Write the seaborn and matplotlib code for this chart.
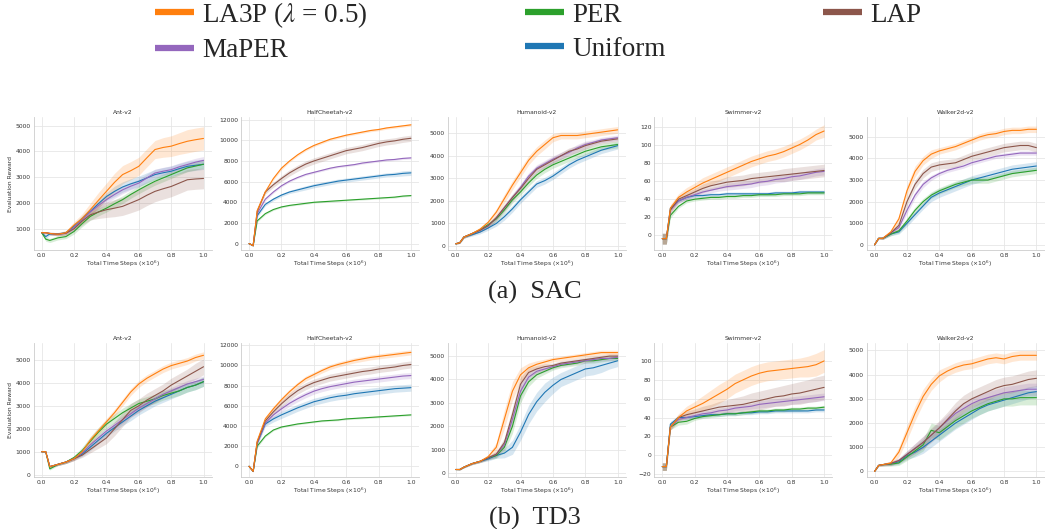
import matplotlib
matplotlib.use("Agg")
import matplotlib.pyplot as plt
from matplotlib.lines import Line2D
from matplotlib.font_manager import FontProperties
from matplotlib.ticker import MultipleLocator
import seaborn as sns

steps = [0, 0.025, 0.05, 0.1, 0.15, 0.2, 0.25, 0.3, 0.35, 0.4, 0.45, 0.5,
         0.55, 0.6, 0.65, 0.7, 0.75, 0.8, 0.85, 0.9, 0.95, 1.0]

methods = ["LA3P", "MaPER", "PER", "Uniform", "LAP"]  # legend order
draw_order = ["Uniform", "PER", "MaPER", "LAP", "LA3P"]
labels = {"LA3P": r"LA3P ($\lambda$ = 0.5)", "MaPER": "MaPER", "PER": "PER",
          "Uniform": "Uniform", "LAP": "LAP"}
colors = {"LA3P": "#ff7f0e", "MaPER": "#9467bd", "PER": "#2ca02c",
          "Uniform": "#1f77b4", "LAP": "#8c564b"}
envs = ["Ant-v2", "HalfCheetah-v2", "Humanoid-v2", "Swimmer-v2", "Walker2d-v2"]

# ---------------- SAC ----------------
sac_ant = {
    "LA3P":    [850, 850, 820, 790, 850, 1150, 1400, 1740, 2100, 2450, 2800, 3100, 3250, 3420, 3750, 4070, 4150, 4200, 4300, 4390, 4450, 4500],
    "MaPER":   [850, 850, 820, 790, 830, 1050, 1350, 1650, 1900, 2130, 2330, 2510, 2650, 2770, 2970, 3160, 3230, 3290, 3400, 3490, 3580, 3650],
    "PER":     [850, 600, 550, 650, 700, 900, 1200, 1480, 1650, 1800, 1970, 2130, 2330, 2510, 2680, 2840, 2970, 3100, 3230, 3360, 3430, 3500],
    "Uniform": [850, 700, 800, 800, 850, 1100, 1400, 1670, 1970, 2250, 2450, 2620, 2740, 2840, 2970, 3100, 3170, 3230, 3330, 3420, 3460, 3500],
    "LAP":     [850, 850, 820, 790, 830, 1000, 1300, 1540, 1650, 1740, 1800, 1870, 2000, 2130, 2300, 2450, 2550, 2640, 2770, 2900, 2930, 2950],
}
sac_ant_sd = {
    "LA3P":    [40, 40, 50, 60, 80, 120, 180, 250, 300, 320, 350, 350, 350, 350, 350, 350, 380, 400, 420, 450, 450, 450],
    "MaPER":   [40, 40, 50, 60, 70, 90, 110, 130, 150, 150, 150, 150, 150, 150, 150, 150, 150, 150, 150, 150, 150, 150],
    "PER":     [40, 80, 80, 80, 80, 100, 120, 150, 150, 150, 150, 150, 150, 150, 150, 150, 150, 150, 150, 150, 150, 150],
    "Uniform": [40, 80, 60, 60, 70, 90, 110, 130, 150, 150, 200, 200, 200, 200, 200, 200, 200, 200, 200, 200, 200, 200],
    "LAP":     [40, 40, 50, 60, 70, 100, 150, 200, 250, 300, 330, 350, 380, 400, 400, 400, 400, 400, 400, 400, 400, 400],
}
sac_hc = {
    "LA3P":    [0, -200, 3200, 5000, 6300, 7300, 8000, 8600, 9100, 9500, 9800, 10100, 10300, 10500, 10650, 10800, 10950, 11050, 11200, 11300, 11400, 11500],
    "MaPER":   [0, -200, 2900, 4300, 5000, 5600, 6050, 6400, 6700, 6900, 7100, 7300, 7450, 7550, 7650, 7800, 7900, 8000, 8100, 8150, 8250, 8300],
    "PER":     [0, -200, 2200, 2900, 3300, 3550, 3700, 3800, 3900, 4000, 4050, 4100, 4150, 4200, 4250, 4300, 4350, 4400, 4450, 4500, 4600, 4650],
    "Uniform": [0, -200, 2700, 3800, 4300, 4700, 5000, 5200, 5400, 5600, 5750, 5900, 6050, 6150, 6250, 6350, 6450, 6550, 6650, 6700, 6800, 6850],
    "LAP":     [0, -200, 3100, 5000, 5700, 6300, 6850, 7300, 7700, 8000, 8250, 8500, 8750, 9000, 9150, 9300, 9500, 9700, 9850, 9950, 10100, 10200],
}
sac_hc_sd = {
    "LA3P":    [0, 50, 150, 150, 150, 150, 120, 120, 120, 120, 120, 120, 120, 120, 120, 120, 120, 120, 120, 120, 120, 120],
    "MaPER":   [0, 50, 150, 150, 120, 100, 100, 100, 100, 100, 100, 100, 100, 100, 100, 100, 100, 100, 100, 100, 100, 100],
    "PER":     [0, 50, 120, 100, 80, 80, 80, 80, 80, 80, 80, 80, 80, 80, 80, 80, 80, 80, 80, 80, 80, 80],
    "Uniform": [0, 50, 150, 150, 150, 150, 150, 180, 200, 200, 200, 200, 200, 200, 200, 200, 200, 200, 200, 220, 250, 250],
    "LAP":     [0, 50, 150, 200, 250, 280, 300, 300, 300, 300, 300, 300, 300, 300, 300, 300, 300, 300, 300, 300, 300, 300],
}
sac_hum = {
    "LA3P":    [100, 150, 400, 550, 750, 1050, 1500, 2100, 2700, 3250, 3800, 4200, 4500, 4800, 4900, 4900, 4900, 4950, 5000, 5050, 5100, 5150],
    "MaPER":   [100, 150, 400, 550, 700, 900, 1250, 1700, 2150, 2600, 3100, 3450, 3650, 3850, 4000, 4150, 4350, 4500, 4600, 4700, 4750, 4800],
    "PER":     [100, 150, 400, 550, 720, 950, 1200, 1600, 2050, 2400, 2800, 3150, 3400, 3600, 3750, 3900, 4050, 4200, 4300, 4400, 4450, 4500],
    "Uniform": [100, 150, 400, 500, 620, 800, 1000, 1300, 1650, 2050, 2400, 2750, 2900, 3100, 3350, 3600, 3800, 3950, 4100, 4250, 4350, 4450],
    "LAP":     [100, 150, 400, 550, 700, 900, 1250, 1700, 2150, 2550, 3000, 3400, 3600, 3800, 4000, 4200, 4300, 4450, 4550, 4650, 4700, 4750],
}
sac_hum_sd = {
    "LA3P":    [20, 30, 50, 60, 80, 100, 150, 200, 200, 200, 200, 200, 200, 180, 150, 150, 150, 150, 150, 150, 150, 150],
    "MaPER":   [20, 30, 50, 60, 80, 100, 120, 150, 150, 150, 150, 150, 150, 150, 150, 150, 150, 150, 120, 120, 120, 120],
    "PER":     [20, 30, 50, 60, 80, 100, 120, 150, 150, 150, 150, 150, 150, 150, 150, 150, 150, 150, 150, 150, 150, 150],
    "Uniform": [20, 30, 50, 60, 80, 100, 120, 150, 150, 150, 150, 150, 150, 150, 150, 150, 150, 150, 150, 150, 150, 150],
    "LAP":     [20, 30, 50, 60, 80, 100, 120, 150, 150, 150, 150, 150, 150, 150, 150, 150, 150, 150, 120, 120, 120, 120],
}
sac_swim = {
    "LA3P":    [-4, -4, 30, 42, 48, 53, 58, 62, 66, 70, 74, 78, 82, 85, 88, 90, 93, 97, 101, 106, 112, 116],
    "MaPER":   [-4, -4, 28, 38, 42, 45, 48, 50, 52, 54, 55, 56, 57, 59, 60, 62, 63, 65, 66, 68, 70, 71],
    "PER":     [-4, -4, 22, 32, 38, 40, 41, 42, 42, 43, 43, 44, 44, 45, 45, 45, 46, 46, 46, 47, 47, 47],
    "Uniform": [-4, -4, 30, 38, 42, 44, 44, 45, 45, 46, 46, 46, 46, 46, 46, 47, 47, 47, 48, 48, 48, 48],
    "LAP":     [-4, -4, 28, 40, 44, 48, 52, 55, 57, 59, 60, 61, 63, 64, 65, 66, 67, 68, 69, 70, 71, 72],
}
sac_swim_sd = {
    "LA3P":    [6, 6, 4, 4, 5, 5, 6, 6, 6, 6, 6, 6, 6, 6, 6, 6, 6, 6, 6, 6, 6, 7],
    "MaPER":   [6, 6, 3, 3, 3, 3, 3, 3, 3, 4, 4, 4, 4, 4, 4, 4, 4, 4, 4, 4, 4, 4],
    "PER":     [6, 6, 3, 2, 2, 2, 2, 2, 2, 2, 2, 2, 2, 2, 2, 2, 2, 2, 2, 2, 2, 2],
    "Uniform": [6, 6, 3, 2, 2, 2, 2, 2, 2, 2, 2, 2, 2, 2, 2, 2, 2, 2, 2, 2, 2, 2],
    "LAP":     [6, 6, 4, 4, 4, 4, 5, 5, 5, 6, 6, 6, 6, 6, 6, 6, 7, 7, 7, 7, 7, 7],
}
sac_walk = {
    "LA3P":    [0, 300, 300, 600, 1200, 2500, 3400, 3900, 4200, 4350, 4450, 4550, 4700, 4850, 5000, 5100, 5150, 5250, 5300, 5300, 5350, 5350],
    "MaPER":   [0, 300, 300, 550, 800, 1600, 2300, 2800, 3100, 3300, 3450, 3550, 3650, 3800, 3900, 4000, 4100, 4150, 4200, 4250, 4250, 4250],
    "PER":     [0, 300, 300, 500, 650, 1100, 1600, 2000, 2300, 2500, 2650, 2800, 2900, 3000, 3000, 3000, 3100, 3200, 3300, 3350, 3400, 3450],
    "Uniform": [0, 300, 300, 500, 600, 1000, 1400, 1800, 2200, 2400, 2550, 2700, 2850, 3000, 3100, 3200, 3300, 3400, 3500, 3550, 3600, 3650],
    "LAP":     [0, 300, 300, 550, 900, 2000, 2800, 3300, 3600, 3700, 3750, 3800, 3950, 4100, 4200, 4300, 4400, 4500, 4550, 4600, 4600, 4500],
}
sac_walk_sd = {
    "LA3P":    [0, 30, 50, 80, 150, 250, 250, 200, 200, 150, 150, 150, 150, 150, 150, 150, 150, 150, 150, 150, 150, 150],
    "MaPER":   [0, 30, 50, 80, 100, 150, 150, 150, 120, 100, 100, 100, 100, 100, 100, 100, 100, 100, 100, 100, 100, 100],
    "PER":     [0, 30, 50, 80, 100, 150, 150, 150, 150, 150, 150, 150, 150, 150, 150, 150, 150, 150, 150, 150, 150, 150],
    "Uniform": [0, 30, 50, 80, 100, 150, 150, 150, 200, 200, 200, 200, 200, 200, 200, 200, 200, 200, 200, 200, 200, 200],
    "LAP":     [0, 30, 50, 80, 150, 200, 200, 200, 200, 200, 200, 200, 200, 200, 200, 200, 200, 200, 200, 200, 200, 200],
}

# ---------------- TD3 ----------------
td3_ant = {
    "LA3P":    [1000, 1000, 350, 450, 550, 700, 1000, 1500, 1900, 2300, 2700, 3150, 3600, 3950, 4200, 4400, 4600, 4750, 4850, 4950, 5100, 5200],
    "MaPER":   [1000, 1000, 350, 450, 550, 700, 950, 1300, 1600, 1900, 2150, 2400, 2650, 2900, 3100, 3300, 3500, 3650, 3800, 3950, 4050, 4150],
    "PER":     [1000, 1000, 250, 450, 550, 750, 1050, 1450, 1850, 2200, 2450, 2700, 2900, 3100, 3200, 3300, 3450, 3550, 3650, 3800, 3900, 4050],
    "Uniform": [1000, 1000, 350, 450, 550, 700, 900, 1200, 1500, 1800, 2050, 2300, 2550, 2800, 3000, 3200, 3350, 3500, 3650, 3800, 3900, 4050],
    "LAP":     [1000, 1000, 350, 450, 550, 700, 850, 1100, 1350, 1600, 2000, 2400, 2800, 3000, 3250, 3450, 3650, 3900, 4100, 4300, 4500, 4700],
}
td3_ant_sd = {
    "LA3P":    [0, 0, 50, 50, 60, 80, 100, 150, 150, 150, 150, 150, 150, 150, 150, 150, 150, 150, 150, 150, 150, 150],
    "MaPER":   [0, 0, 50, 50, 60, 80, 100, 150, 150, 150, 150, 150, 150, 150, 150, 150, 150, 150, 150, 150, 150, 150],
    "PER":     [0, 0, 50, 50, 60, 80, 150, 200, 200, 200, 200, 200, 200, 200, 200, 200, 200, 200, 200, 200, 200, 200],
    "Uniform": [0, 0, 50, 50, 60, 80, 100, 150, 150, 150, 150, 150, 200, 200, 200, 200, 200, 200, 200, 200, 200, 200],
    "LAP":     [0, 0, 50, 50, 60, 80, 100, 150, 200, 250, 300, 300, 300, 300, 300, 300, 300, 300, 300, 300, 350, 350],
}
td3_hc = {
    "LA3P":    [0, -500, 2500, 4700, 5700, 6600, 7400, 8100, 8700, 9100, 9500, 9850, 10100, 10300, 10500, 10650, 10800, 10900, 11000, 11100, 11200, 11300],
    "MaPER":   [0, -500, 2300, 4300, 5100, 5700, 6250, 6700, 7100, 7450, 7700, 7900, 8050, 8200, 8350, 8450, 8550, 8650, 8750, 8850, 8950, 9000],
    "PER":     [0, -500, 2000, 3000, 3600, 3900, 4050, 4200, 4300, 4400, 4500, 4550, 4600, 4700, 4750, 4800, 4850, 4900, 4950, 5000, 5050, 5100],
    "Uniform": [0, -500, 2300, 4200, 4700, 5100, 5450, 5800, 6100, 6400, 6600, 6800, 6950, 7050, 7200, 7300, 7400, 7500, 7600, 7700, 7750, 7800],
    "LAP":     [0, -500, 2400, 4500, 5400, 6200, 6900, 7500, 7950, 8300, 8550, 8800, 8950, 9100, 9250, 9400, 9500, 9650, 9750, 9850, 10000, 10100],
}
td3_hc_sd = {
    "LA3P":    [0, 50, 200, 250, 250, 250, 250, 250, 250, 250, 250, 250, 250, 250, 250, 250, 250, 250, 250, 250, 250, 250],
    "MaPER":   [0, 50, 200, 250, 300, 300, 300, 300, 300, 300, 300, 300, 300, 300, 300, 300, 300, 300, 300, 300, 300, 300],
    "PER":     [0, 50, 150, 100, 80, 80, 80, 80, 80, 80, 80, 80, 80, 80, 80, 80, 80, 80, 80, 80, 80, 80],
    "Uniform": [0, 50, 200, 250, 300, 350, 350, 350, 350, 350, 350, 350, 350, 350, 350, 350, 350, 350, 350, 350, 350, 350],
    "LAP":     [0, 50, 200, 250, 300, 350, 350, 350, 350, 350, 350, 350, 350, 350, 350, 350, 350, 350, 350, 350, 350, 350],
}
td3_hum = {
    "LA3P":    [150, 150, 250, 400, 500, 700, 1100, 2300, 3500, 4200, 4500, 4650, 4750, 4850, 4900, 4950, 5000, 5050, 5100, 5150, 5150, 5150],
    "MaPER":   [150, 150, 250, 400, 500, 650, 800, 1200, 2300, 3500, 4100, 4350, 4450, 4550, 4650, 4700, 4750, 4800, 4850, 4900, 4900, 4950],
    "PER":     [150, 150, 250, 400, 500, 650, 750, 1100, 2000, 3300, 3900, 4200, 4350, 4500, 4600, 4650, 4700, 4800, 4800, 4850, 4900, 4900],
    "Uniform": [150, 150, 250, 400, 500, 600, 750, 850, 1100, 1750, 2500, 3050, 3450, 3750, 4000, 4150, 4300, 4450, 4500, 4600, 4700, 4800],
    "LAP":     [150, 150, 250, 400, 500, 650, 800, 1300, 2500, 3800, 4300, 4450, 4550, 4600, 4700, 4750, 4800, 4850, 4900, 4950, 5000, 5000],
}
td3_hum_sd = {
    "LA3P":    [0, 20, 30, 40, 50, 80, 200, 400, 400, 300, 200, 150, 120, 100, 100, 100, 100, 100, 100, 100, 100, 100],
    "MaPER":   [0, 20, 30, 40, 50, 80, 120, 200, 300, 300, 200, 150, 120, 100, 100, 100, 100, 100, 100, 100, 100, 100],
    "PER":     [0, 20, 30, 40, 50, 80, 120, 200, 300, 300, 200, 150, 120, 100, 100, 100, 100, 100, 100, 100, 100, 100],
    "Uniform": [0, 20, 30, 40, 50, 80, 120, 200, 300, 350, 400, 400, 400, 350, 300, 300, 300, 300, 300, 300, 250, 250],
    "LAP":     [0, 20, 30, 40, 50, 80, 120, 200, 300, 300, 200, 150, 120, 100, 100, 100, 100, 100, 100, 100, 100, 100],
}
td3_swim = {
    "LA3P":    [-12, -12, 30, 40, 47, 51, 55, 60, 65, 70, 76, 80, 84, 87, 89, 90, 91, 92, 93, 94, 96, 100],
    "MaPER":   [-12, -12, 30, 38, 40, 42, 44, 45, 47, 48, 50, 51, 52, 54, 55, 56, 57, 58, 59, 60, 61, 62],
    "PER":     [-12, -12, 30, 35, 36, 39, 41, 42, 43, 44, 44, 45, 46, 47, 47, 48, 48, 49, 49, 50, 50, 51],
    "Uniform": [-12, -12, 33, 40, 40, 41, 42, 43, 43, 44, 44, 45, 45, 46, 46, 47, 47, 47, 47, 47, 48, 48],
    "LAP":     [-12, -12, 30, 40, 43, 45, 47, 49, 51, 52, 53, 54, 56, 58, 60, 62, 63, 65, 66, 68, 70, 72],
}
td3_swim_sd = {
    "LA3P":    [4, 4, 3, 4, 5, 6, 8, 9, 10, 10, 10, 10, 10, 10, 10, 10, 10, 10, 10, 11, 12, 12],
    "MaPER":   [4, 4, 3, 3, 3, 3, 3, 3, 3, 3, 3, 3, 3, 4, 4, 4, 4, 4, 4, 4, 4, 4],
    "PER":     [4, 4, 3, 3, 3, 2, 2, 2, 2, 2, 2, 2, 2, 2, 2, 2, 2, 2, 2, 2, 2, 2],
    "Uniform": [4, 4, 3, 2, 2, 2, 2, 2, 2, 2, 2, 2, 2, 2, 2, 2, 2, 2, 2, 2, 2, 2],
    "LAP":     [4, 4, 3, 3, 4, 4, 5, 5, 6, 7, 8, 9, 10, 10, 10, 10, 11, 11, 12, 12, 13, 13],
}
td3_walk = {
    "LA3P":    [0, 250, 280, 350, 800, 1600, 2400, 3100, 3600, 3950, 4150, 4300, 4400, 4450, 4550, 4650, 4700, 4650, 4750, 4800, 4800, 4800],
    "MaPER":   [0, 250, 280, 330, 450, 700, 950, 1200, 1500, 1800, 2100, 2400, 2600, 2800, 2950, 3050, 3150, 3250, 3300, 3350, 3400, 3400],
    "PER":     [0, 250, 280, 300, 350, 600, 850, 1100, 1700, 1600, 1850, 2100, 2300, 2500, 2650, 2800, 2900, 3000, 3000, 3050, 3050, 3050],
    "Uniform": [0, 250, 280, 320, 400, 650, 800, 1000, 1250, 1500, 1750, 2000, 2200, 2400, 2600, 2750, 2850, 2950, 3050, 3150, 3250, 3300],
    "LAP":     [0, 250, 280, 330, 450, 700, 950, 1200, 1500, 1800, 2150, 2500, 2800, 3000, 3150, 3300, 3450, 3550, 3600, 3700, 3800, 3850],
}
td3_walk_sd = {
    "LA3P":    [0, 30, 50, 80, 200, 300, 300, 300, 250, 250, 200, 200, 200, 200, 200, 200, 200, 200, 200, 200, 200, 200],
    "MaPER":   [0, 30, 50, 80, 100, 150, 200, 250, 250, 250, 250, 250, 250, 250, 250, 250, 250, 250, 250, 250, 250, 250],
    "PER":     [0, 30, 50, 80, 100, 150, 200, 250, 300, 300, 300, 300, 300, 300, 300, 300, 300, 300, 300, 300, 300, 300],
    "Uniform": [0, 30, 50, 80, 100, 150, 200, 250, 250, 250, 250, 250, 250, 250, 250, 250, 250, 250, 250, 250, 250, 250],
    "LAP":     [0, 30, 50, 80, 100, 150, 200, 250, 300, 300, 300, 350, 350, 350, 350, 350, 350, 350, 350, 350, 350, 350],
}

sac_runs = [(sac_ant, sac_ant_sd), (sac_hc, sac_hc_sd), (sac_hum, sac_hum_sd),
            (sac_swim, sac_swim_sd), (sac_walk, sac_walk_sd)]
td3_runs = [(td3_ant, td3_ant_sd), (td3_hc, td3_hc_sd), (td3_hum, td3_hum_sd),
            (td3_swim, td3_swim_sd), (td3_walk, td3_walk_sd)]

sac_ylims = [(180, 5330), (-620, 12260), (-175, 5720), (-16.6, 131.6), (-240, 5920)]
td3_ylims = [(-100, 5735), (-1060, 12230), (-170, 5560), (-23, 119), (-230, 5310)]
ysteps = [1000, 2000, 1000, 20, 1000]

sns.set_theme(style="whitegrid")
plt.rcParams["font.family"] = ["DejaVu Sans"]

W, H = 1045, 529
fig = plt.figure(figsize=(W / 100, H / 100), dpi=100)

lefts = [33.6, 241, 447.7, 654.2, 866.5]
panel_w = 178
rows = [(117, 250, sac_runs, sac_ylims), (343, 477, td3_runs, td3_ylims)]

for top, bottom, runs, ylims in rows:
    for i, (mean, sd) in enumerate(runs):
        ax = fig.add_axes([lefts[i] / W, 1 - bottom / H, panel_w / W, (bottom - top) / H])
        for m in draw_order:
            lo = [a - b for a, b in zip(mean[m], sd[m])]
            hi = [a + b for a, b in zip(mean[m], sd[m])]
            ax.fill_between(steps, lo, hi, color=colors[m], alpha=0.18, lw=0)
            sns.lineplot(x=steps, y=mean[m], ax=ax, color=colors[m], lw=0.8)
        ax.set_xlim(-0.05, 1.05)
        ax.set_ylim(*ylims[i])
        ax.xaxis.set_major_locator(MultipleLocator(0.2))
        ax.yaxis.set_major_locator(MultipleLocator(ysteps[i]))
        ax.tick_params(labelsize=4.3, pad=2, length=0, labelcolor="#333333")
        ax.set_title(envs[i], fontsize=4.3, pad=2.5, color="#333333")
        ax.set_xlabel(r"Total Time Steps ($\times10^6$)", fontsize=4.3,
                      labelpad=1, color="#333333")
        if i == 0:
            ax.set_ylabel("Evaluation Reward", fontsize=4.3, labelpad=2,
                          color="#333333")
        else:
            ax.set_ylabel("")
        ax.grid(color="#e6e6e6", lw=0.6)
        for s in ax.spines.values():
            s.set_linewidth(0.6)
        sns.despine(ax=ax)

serif = FontProperties(family="Liberation Serif", size=19.5, math_fontfamily="stix")
handles = [Line2D([], [], color=colors[m], lw=4.5, solid_capstyle="butt")
           for m in methods]
fig.legend(handles, [labels[m] for m in methods], loc="upper left",
           bbox_to_anchor=(152 / W, 1.005), ncol=3, frameon=False, prop=serif,
           handlelength=1.45, handletextpad=0.3, columnspacing=5.8,
           labelspacing=0.32, borderaxespad=0, borderpad=0.1)

cap = FontProperties(family="Liberation Serif", size=19)
fig.text(535 / W, 1 - 292 / H, "(a)  SAC", ha="center", va="center", fontproperties=cap)
fig.text(535 / W, 1 - 518 / H, "(b)  TD3", ha="center", va="center", fontproperties=cap)

fig.savefig("out.png", dpi=100)
